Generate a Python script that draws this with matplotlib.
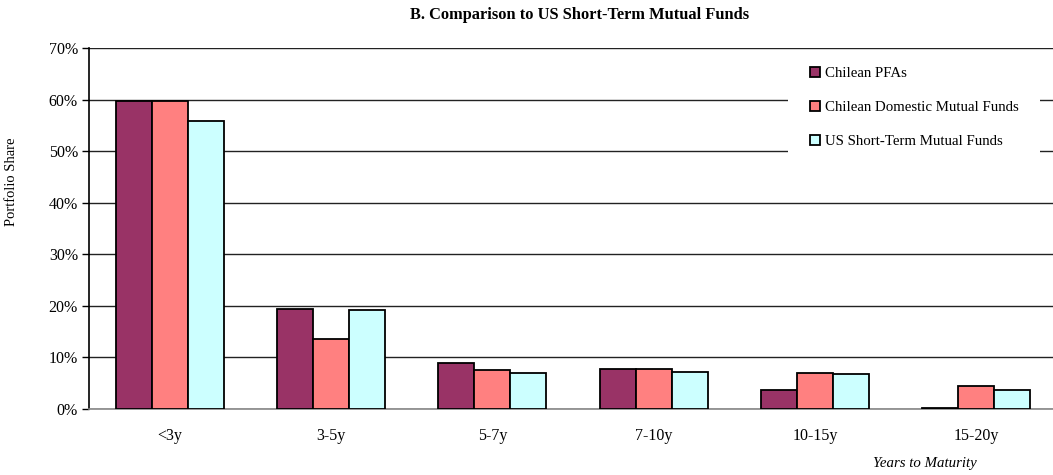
import matplotlib
matplotlib.use("Agg")
import matplotlib.pyplot as plt
from matplotlib.patches import Rectangle
import numpy as np

plt.rcParams['font.family'] = ['Liberation Serif', 'DejaVu Serif']

categories = ['<3y', '3-5y', '5-7y', '7-10y', '10-15y', '15-20y']
pfa = [59.8, 19.4, 8.9, 7.8, 3.7, 0.2]
domestic = [59.8, 13.6, 7.6, 7.7, 7.0, 4.5]
us_short = [55.9, 19.2, 7.0, 7.2, 6.8, 3.6]

series = [
    ('Chilean PFAs', pfa, '#993366'),
    ('Chilean Domestic Mutual Funds', domestic, '#FF8080'),
    ('US Short-Term Mutual Funds', us_short, '#CCFFFF'),
]

fig = plt.figure(figsize=(10.53, 4.75), dpi=100)
ax = fig.add_axes([89/1053, 1 - 409/475, (1057 - 89)/1053, (409 - 48)/475])

x = np.arange(len(categories))
w = 0.223
for i, (name, vals, col) in enumerate(series):
    ax.bar(x + (i - 1)*w, vals, w, color=col, edgecolor='black', linewidth=1.3,
           label=name, zorder=3)

ax.set_xlim(-0.5, 5.5)
ax.set_ylim(0, 70)
ax.set_yticks(range(0, 71, 10))
ax.set_yticklabels([f'{v}%' for v in range(0, 71, 10)], fontsize=11.5)
ax.set_xticks(x)
ax.set_xticklabels(categories, fontsize=11.5)
ax.tick_params(axis='x', length=0, pad=14)
ax.tick_params(axis='y', length=5, width=1, direction='out', pad=3)
ax.yaxis.grid(True, color='#222222', linewidth=1.0, zorder=0)

for s in ['top', 'right']:
    ax.spines[s].set_visible(False)
ax.spines['left'].set_linewidth(1.2)
ax.spines['bottom'].set_color('#888888')
ax.spines['bottom'].set_linewidth(1.2)

fig.text(12/1053, 1 - 182/475, 'Portfolio Share', rotation=90, fontsize=10.5,
         ha='center', va='center')
fig.text(925/1053, 1 - 463/475, 'Years to Maturity', style='italic',
         fontsize=10.7, ha='center', va='center')
fig.text(580/1053, 1 - 15/475, 'B. Comparison to US Short-Term Mutual Funds',
         fontsize=11.8, fontweight='bold', ha='center', va='center')

# white patch behind the legend, hiding the grid lines there
ax.add_patch(Rectangle((788/1053, 1 - 160/475), (1040 - 788)/1053, 105/475,
                       transform=fig.transFigure, facecolor='white',
                       edgecolor='none', zorder=4, clip_on=False))

leg = ax.legend(loc='upper left', bbox_to_anchor=(810/1053, 1 - 67/475),
                bbox_transform=fig.transFigure, frameon=False, fontsize=10.7,
                handlelength=0.7, handleheight=0.7, handletextpad=0.3,
                labelspacing=1.38, borderpad=0, borderaxespad=0)
leg.set_zorder(5)

fig.savefig('out.png', dpi=100)
